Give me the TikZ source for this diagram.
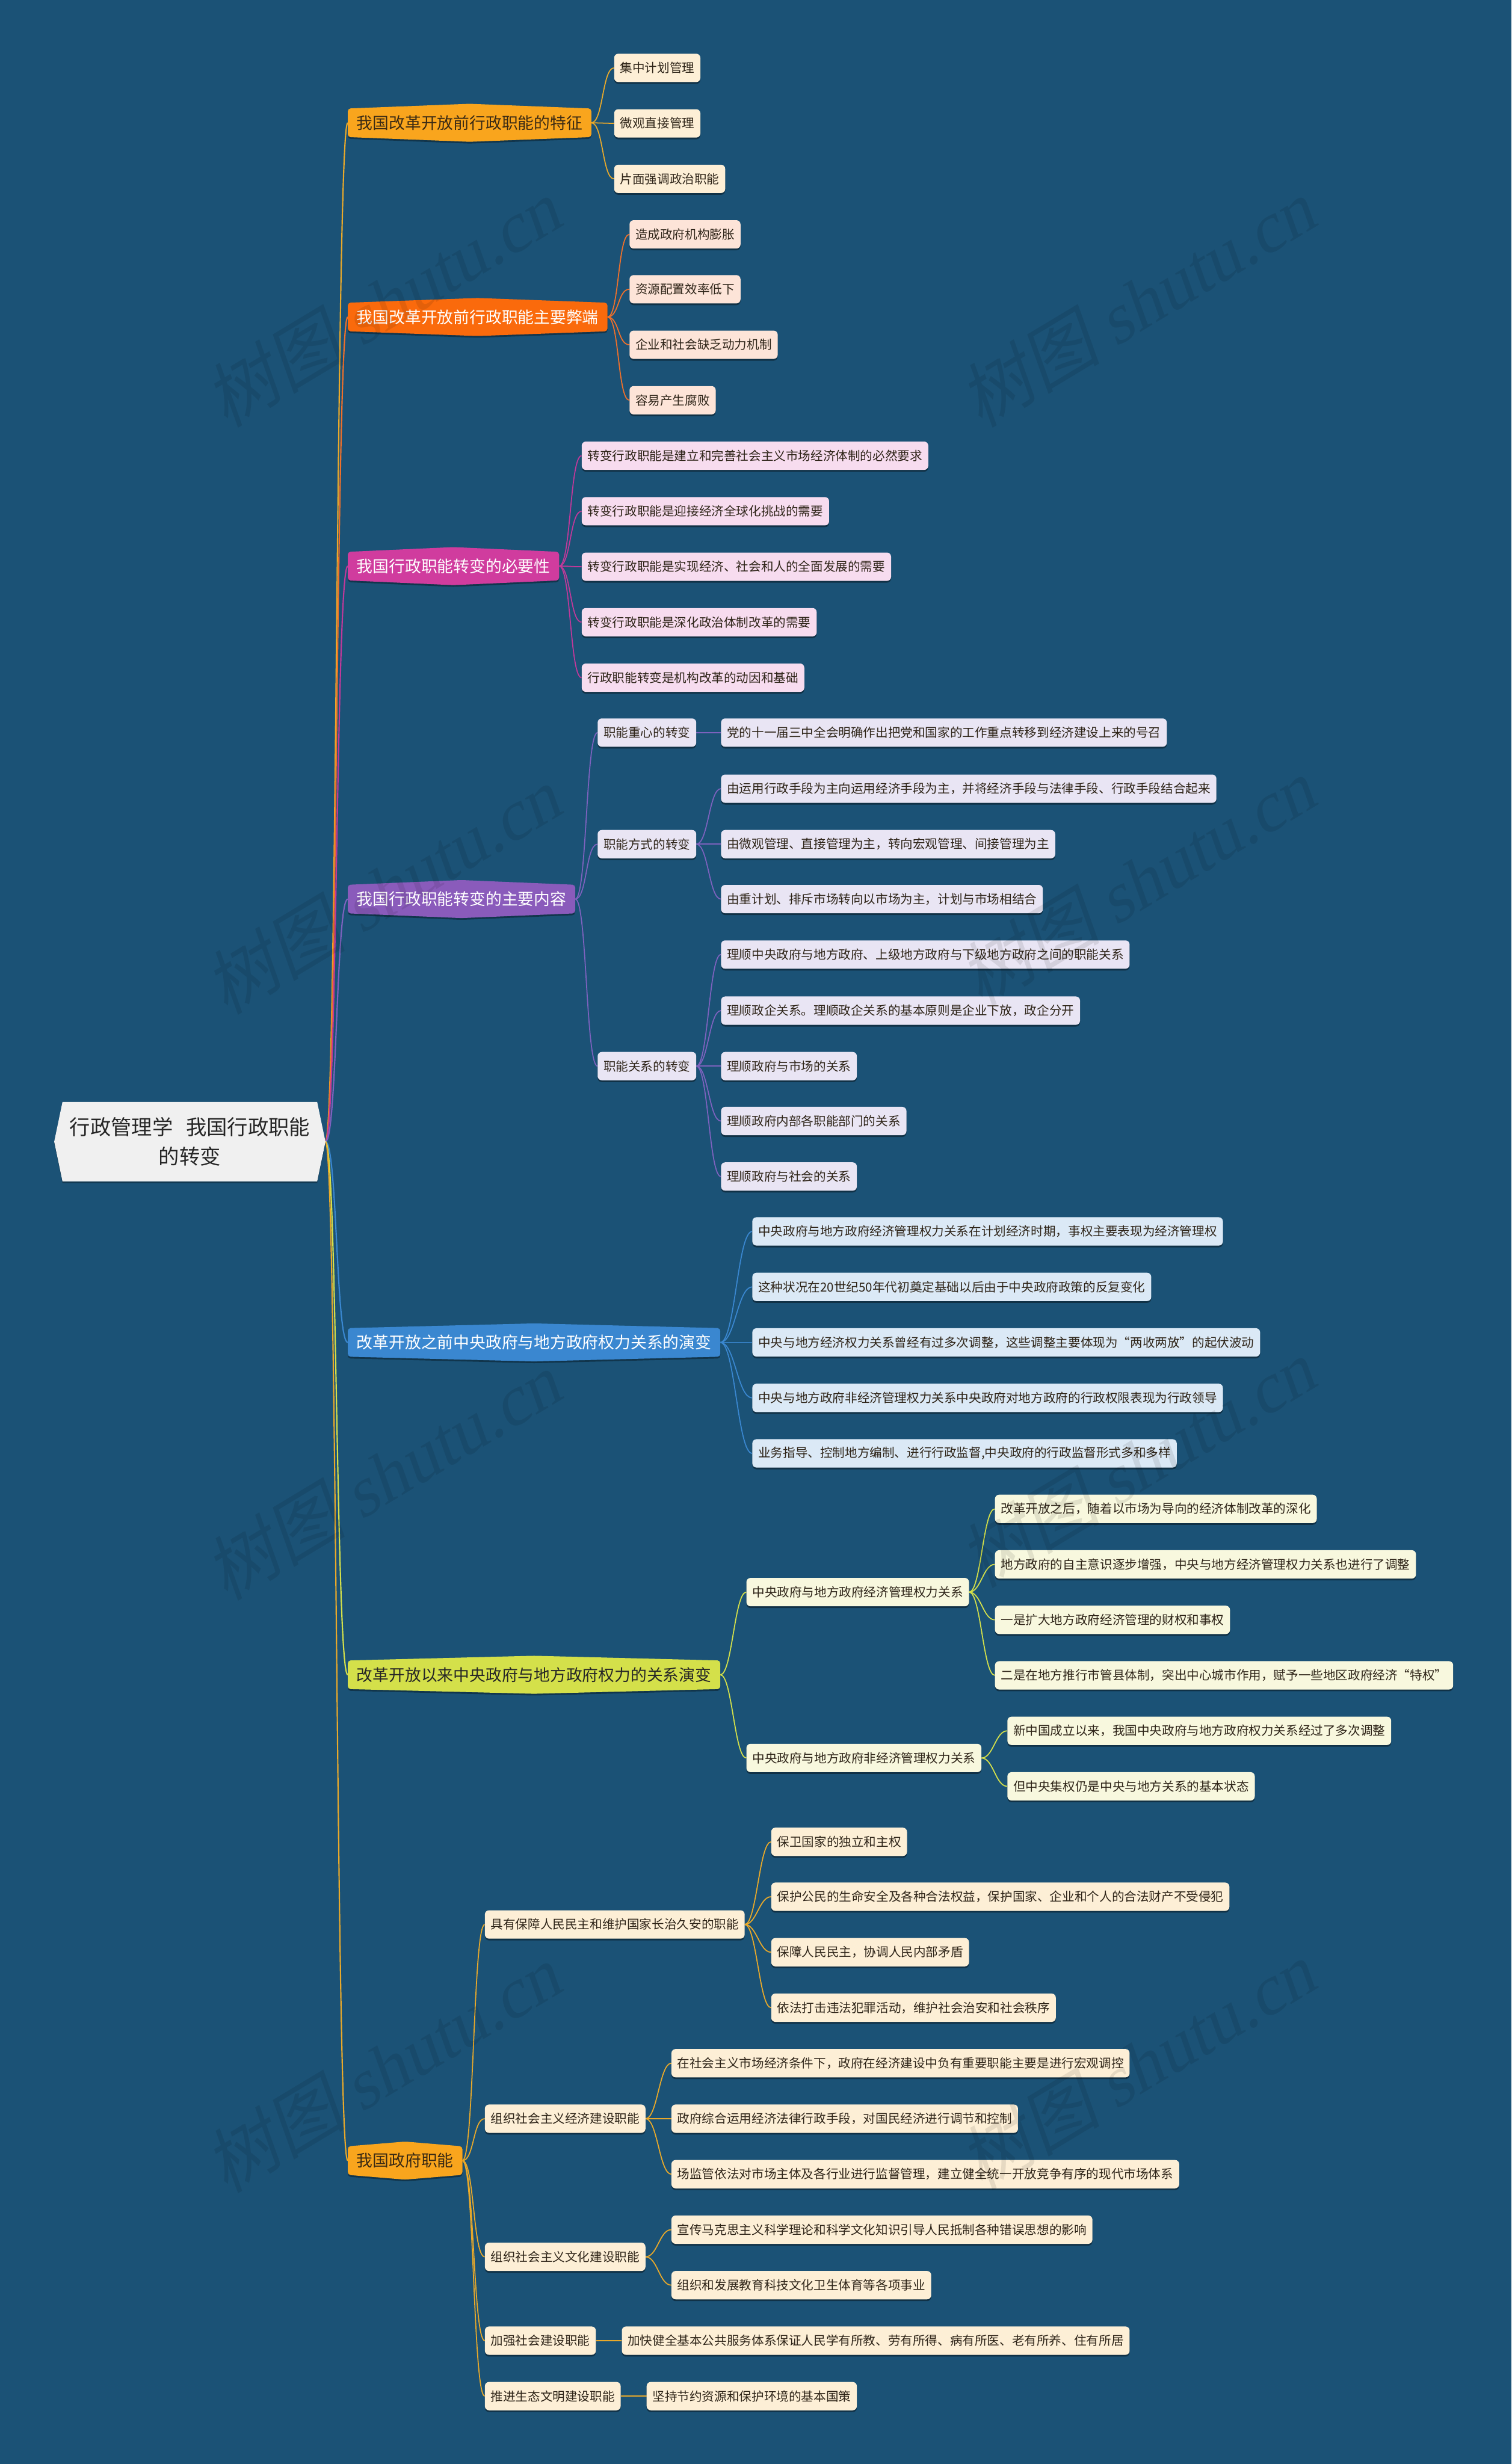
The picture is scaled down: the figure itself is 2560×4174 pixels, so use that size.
\documentclass[tikz,border=0pt]{standalone}
\usepackage{fontspec}
\setmainfont{Noto Sans CJK SC}
\newfontfamily\wmcjk[FakeSlant=0.2]{Noto Sans CJK SC}
\newfontfamily\wmlat[FakeSlant=0.2]{Liberation Serif}
\usetikzlibrary{shadows}
\definecolor{bgc}{HTML}{1B5276}
\definecolor{rootfill}{HTML}{F0F0F0}
\definecolor{cA}{HTML}{F9A51D}
\definecolor{cB}{HTML}{FA6A0C}
\definecolor{cC}{HTML}{D03C9E}
\definecolor{cD}{HTML}{8A5BBB}
\definecolor{cE}{HTML}{3A87D0}
\definecolor{cF}{HTML}{D4E04A}
\definecolor{cG}{HTML}{F9A51D}
\definecolor{lA}{HTML}{FDEFD6}
\definecolor{lB}{HTML}{FDE4D8}
\definecolor{lC}{HTML}{F7DCEF}
\definecolor{lD}{HTML}{E9E5F4}
\definecolor{lE}{HTML}{DBE9F6}
\definecolor{lF}{HTML}{F8F8DE}
\definecolor{lG}{HTML}{FDEFD6}
\definecolor{kA}{HTML}{E9A92A}
\definecolor{kB}{HTML}{F0702A}
\definecolor{kC}{HTML}{C0399A}
\definecolor{kD}{HTML}{7D62BE}
\definecolor{kE}{HTML}{3A87D0}
\definecolor{kF}{HTML}{D4E04A}
\definecolor{kG}{HTML}{E9A92A}
\definecolor{tdark}{HTML}{3A2A14}
\definecolor{tleaf}{HTML}{2E2418}
\pgfdeclarelayer{base}
\pgfdeclarelayer{lines}
\pgfdeclarelayer{bg}
\pgfsetlayers{base,lines,bg,main}
\tikzset{
  leafbase/.style={rounded corners=7pt, font=\fontsize{21}{25}\selectfont, inner xsep=10pt, inner ysep=0pt, minimum height=48pt, anchor=west, text=tleaf, drop shadow={shadow xshift=0pt, shadow yshift=-3pt, opacity=0.4, fill=black}},
  lfA/.style={leafbase, fill=lA},
  lfB/.style={leafbase, fill=lB},
  lfC/.style={leafbase, fill=lC},
  lfD/.style={leafbase, fill=lD},
  lfE/.style={leafbase, fill=lE},
  lfF/.style={leafbase, fill=lF},
  lfG/.style={leafbase, fill=lG},
  brnode/.style={font=\fontsize{27.3}{32}\selectfont, inner xsep=15pt, inner ysep=0pt, minimum height=48pt, anchor=west},
  rootbox/.style={align=center, font=\fontsize{35}{50}\selectfont, text=black!85, minimum width=431pt, minimum height=134pt, inner sep=0pt},
  wmark/.style={rotate=31, text=black, text opacity=0.09, font=\fontsize{120}{120}\selectfont},
  c1/.style={line width=2.2pt},
  c2/.style={line width=1.8pt}
}
\newcommand\brshape[2]{%
  \begin{pgfonlayer}{bg}
  \begin{scope}[transform canvas={yshift=-3pt}]
  \fill[black,opacity=0.35,rounded corners=5pt] (#1.north west) -- ([yshift=8pt]#1.north) -- (#1.north east) -- (#1.south east) -- ([yshift=-8pt]#1.south) -- (#1.south west) -- cycle;
  \end{scope}
  \fill[#2,rounded corners=5pt] (#1.north west) -- ([yshift=8pt]#1.north) -- (#1.north east) -- (#1.south east) -- ([yshift=-8pt]#1.south) -- (#1.south west) -- cycle;
  \end{pgfonlayer}}
\newcommand\lk[4][20]{\begin{pgfonlayer}{lines}\draw[#4] (#2) .. controls +(#1,0) and +(-#1,0) .. (#3);\end{pgfonlayer}}
\begin{document}
\begin{tikzpicture}[x=1pt,y=-1pt]
\begin{pgfonlayer}{base}
\fill[bgc] (0,0) rectangle (2560,4174);
\end{pgfonlayer}
\useasboundingbox (0,0) rectangle (2560,4174);

% root
\node[rootbox] (root) at (321.5,1934) {行政管理学\hspace{22pt}我国行政职能\\的转变};
\begin{pgfonlayer}{bg}
\begin{scope}[transform canvas={yshift=-3pt}]
\fill[black,opacity=0.3] (root.north west) -- (root.north east) -- ([xshift=14pt]root.east) -- (root.south east) -- (root.south west) -- ([xshift=-14pt]root.west) -- cycle;
\end{scope}
\fill[rootfill] (root.north west) -- (root.north east) -- ([xshift=14pt]root.east) -- (root.south east) -- (root.south west) -- ([xshift=-14pt]root.west) -- cycle;
\end{pgfonlayer}
\coordinate (rootR) at ([xshift=14pt]root.east);

% branch 1
\node[brnode,text=tdark] (B1) at (589,208) {我国改革开放前行政职能的特征};
\brshape{B1}{cA}
\node[lfA] (b1a) at (1040,115) {集中计划管理};
\node[lfA] (b1b) at (1040,209) {微观直接管理};
\node[lfA] (b1c) at (1040,303) {片面强调政治职能};
\lk{rootR}{B1.west}{kA,c1}
\foreach \n in {b1a,b1b,b1c} {\lk{B1.east}{\n.west}{kA,c2}}

% branch 2
\node[brnode,text=white] (B2) at (589,537) {我国改革开放前行政职能主要弊端};
\brshape{B2}{cB}
\node[lfB] (b2a) at (1066,397) {造成政府机构膨胀};
\node[lfB] (b2b) at (1066,490) {资源配置效率低下};
\node[lfB] (b2c) at (1066,584) {企业和社会缺乏动力机制};
\node[lfB] (b2d) at (1066,678) {容易产生腐败};
\lk{rootR}{B2.west}{kB,c1}
\foreach \n in {b2a,b2b,b2c,b2d} {\lk{B2.east}{\n.west}{kB,c2}}

% branch 3
\node[brnode,text=white] (B3) at (589,959) {我国行政职能转变的必要性};
\brshape{B3}{cC}
\node[lfC] (b3a) at (985,772) {转变行政职能是建立和完善社会主义市场经济体制的必然要求};
\node[lfC] (b3b) at (985,866) {转变行政职能是迎接经济全球化挑战的需要};
\node[lfC] (b3c) at (985,960) {转变行政职能是实现经济、社会和人的全面发展的需要};
\node[lfC] (b3d) at (985,1054) {转变行政职能是深化政治体制改革的需要};
\node[lfC] (b3e) at (985,1148) {行政职能转变是机构改革的动因和基础};
\lk{rootR}{B3.west}{kC,c1}
\foreach \n in {b3a,b3b,b3c,b3d,b3e} {\lk{B3.east}{\n.west}{kC,c2}}

% branch 4
\node[brnode,text=white] (B4) at (589,1523) {我国行政职能转变的主要内容};
\brshape{B4}{cD}
\node[lfD] (b4a) at (1012,1241) {职能重心的转变};
\node[lfD] (b4b) at (1012,1430) {职能方式的转变};
\node[lfD] (b4c) at (1012,1806) {职能关系的转变};
\node[lfD] (b4a1) at (1221,1241) {党的十一届三中全会明确作出把党和国家的工作重点转移到经济建设上来的号召};
\node[lfD] (b4b1) at (1221,1336) {由运用行政手段为主向运用经济手段为主，并将经济手段与法律手段、行政手段结合起来};
\node[lfD] (b4b2) at (1221,1430) {由微观管理、直接管理为主，转向宏观管理、间接管理为主};
\node[lfD] (b4b3) at (1221,1523) {由重计划、排斥市场转向以市场为主，计划与市场相结合};
\node[lfD] (b4c1) at (1221,1617) {理顺中央政府与地方政府、上级地方政府与下级地方政府之间的职能关系};
\node[lfD] (b4c2) at (1221,1712) {理顺政企关系。理顺政企关系的基本原则是企业下放，政企分开};
\node[lfD] (b4c3) at (1221,1806) {理顺政府与市场的关系};
\node[lfD] (b4c4) at (1221,1899) {理顺政府内部各职能部门的关系};
\node[lfD] (b4c5) at (1221,1993) {理顺政府与社会的关系};
\lk{rootR}{B4.west}{kD,c1}
\foreach \n in {b4a,b4b,b4c} {\lk{B4.east}{\n.west}{kD,c2}}
\lk{b4a.east}{b4a1.west}{kD,c2}
\foreach \n in {b4b1,b4b2,b4b3} {\lk{b4b.east}{\n.west}{kD,c2}}
\foreach \n in {b4c1,b4c2,b4c3,b4c4,b4c5} {\lk{b4c.east}{\n.west}{kD,c2}}

% branch 5
\node[brnode,text=white] (B5) at (589,2274) {改革开放之前中央政府与地方政府权力关系的演变};
\brshape{B5}{cE}
\node[lfE] (b5a) at (1274,2086) {中央政府与地方政府经济管理权力关系在计划经济时期，事权主要表现为经济管理权};
\node[lfE] (b5b) at (1274,2180) {这种状况在20世纪50年代初奠定基础以后由于中央政府政策的反复变化};
\node[lfE] (b5c) at (1274,2274) {中央与地方经济权力关系曾经有过多次调整，这些调整主要体现为“两收两放”的起伏波动};
\node[lfE] (b5d) at (1274,2368) {中央与地方政府非经济管理权力关系中央政府对地方政府的行政权限表现为行政领导};
\node[lfE] (b5e) at (1274,2462) {业务指导、控制地方编制、进行行政监督,中央政府的行政监督形式多和多样};
\lk{rootR}{B5.west}{kE,c1}
\foreach \n in {b5a,b5b,b5c,b5d,b5e} {\lk[25]{B5.east}{\n.west}{kE,c2}}

% branch 6
\node[brnode,text=black!85] (B6) at (589,2837) {改革开放以来中央政府与地方政府权力的关系演变};
\brshape{B6}{cF}
\node[lfF] (b6a) at (1264,2697) {中央政府与地方政府经济管理权力关系};
\node[lfF] (b6b) at (1264,2978) {中央政府与地方政府非经济管理权力关系};
\node[lfF] (b6a1) at (1685,2556) {改革开放之后，随着以市场为导向的经济体制改革的深化};
\node[lfF] (b6a2) at (1685,2650) {地方政府的自主意识逐步增强，中央与地方经济管理权力关系也进行了调整};
\node[lfF] (b6a3) at (1685,2744) {一是扩大地方政府经济管理的财权和事权};
\node[lfF] (b6a4) at (1685,2838) {二是在地方推行市管县体制，突出中心城市作用，赋予一些地区政府经济“特权”};
\node[lfF] (b6b1) at (1706,2932) {新中国成立以来，我国中央政府与地方政府权力关系经过了多次调整};
\node[lfF] (b6b2) at (1706,3026) {但中央集权仍是中央与地方关系的基本状态};
\lk{rootR}{B6.west}{kF,c1}
\foreach \n in {b6a,b6b} {\lk{B6.east}{\n.west}{kF,c2}}
\foreach \n in {b6a1,b6a2,b6a3,b6a4} {\lk{b6a.east}{\n.west}{kF,c2}}
\foreach \n in {b6b1,b6b2} {\lk{b6b.east}{\n.west}{kF,c2}}

% branch 7
\node[brnode,text=tdark] (B7) at (589,3660) {我国政府职能};
\brshape{B7}{cG}
\node[lfG] (b7a) at (821,3260) {具有保障人民民主和维护国家长治久安的职能};
\node[lfG] (b7b) at (821,3589) {组织社会主义经济建设职能};
\node[lfG] (b7c) at (821,3823) {组织社会主义文化建设职能};
\node[lfG] (b7d) at (821,3965) {加强社会建设职能};
\node[lfG] (b7e) at (821,4059) {推进生态文明建设职能};
\node[lfG] (b7a1) at (1306,3120) {保卫国家的独立和主权};
\node[lfG] (b7a2) at (1306,3213) {保护公民的生命安全及各种合法权益，保护国家、企业和个人的合法财产不受侵犯};
\node[lfG] (b7a3) at (1306,3307) {保障人民民主，协调人民内部矛盾};
\node[lfG] (b7a4) at (1306,3401) {依法打击违法犯罪活动，维护社会治安和社会秩序};
\node[lfG] (b7b1) at (1137,3495) {在社会主义市场经济条件下，政府在经济建设中负有重要职能主要是进行宏观调控};
\node[lfG] (b7b2) at (1137,3589) {政府综合运用经济法律行政手段，对国民经济进行调节和控制};
\node[lfG] (b7b3) at (1137,3683) {场监管依法对市场主体及各行业进行监督管理，建立健全统一开放竞争有序的现代市场体系};
\node[lfG] (b7c1) at (1137,3777) {宣传马克思主义科学理论和科学文化知识引导人民抵制各种错误思想的影响};
\node[lfG] (b7c2) at (1137,3871) {组织和发展教育科技文化卫生体育等各项事业};
\node[lfG] (b7d1) at (1053,3965) {加快健全基本公共服务体系保证人民学有所教、劳有所得、病有所医、老有所养、住有所居};
\node[lfG] (b7e1) at (1095,4059) {坚持节约资源和保护环境的基本国策};
\lk{rootR}{B7.west}{kG,c1}
\foreach \n in {b7a,b7b,b7c,b7d,b7e} {\lk{B7.east}{\n.west}{kG,c2}}
\foreach \n in {b7a1,b7a2,b7a3,b7a4} {\lk{b7a.east}{\n.west}{kG,c2}}
\foreach \n in {b7b1,b7b2,b7b3} {\lk{b7b.east}{\n.west}{kG,c2}}
\foreach \n in {b7c1,b7c2} {\lk{b7c.east}{\n.west}{kG,c2}}
\lk{b7d.east}{b7d1.west}{kG,c2}
\lk{b7e.east}{b7e1.west}{kG,c2}

% watermarks
\foreach \wx/\wy [count=\i] in {647/514,1925/514,647/1509,1925/1495,647/2501,1925/2480,647/3505,1925/3500}
  {\node[wmark] (wm\i) at (\wx,\wy) {{\wmcjk 树图} {\wmlat shutu.cn}};}
\end{tikzpicture}
\end{document}
